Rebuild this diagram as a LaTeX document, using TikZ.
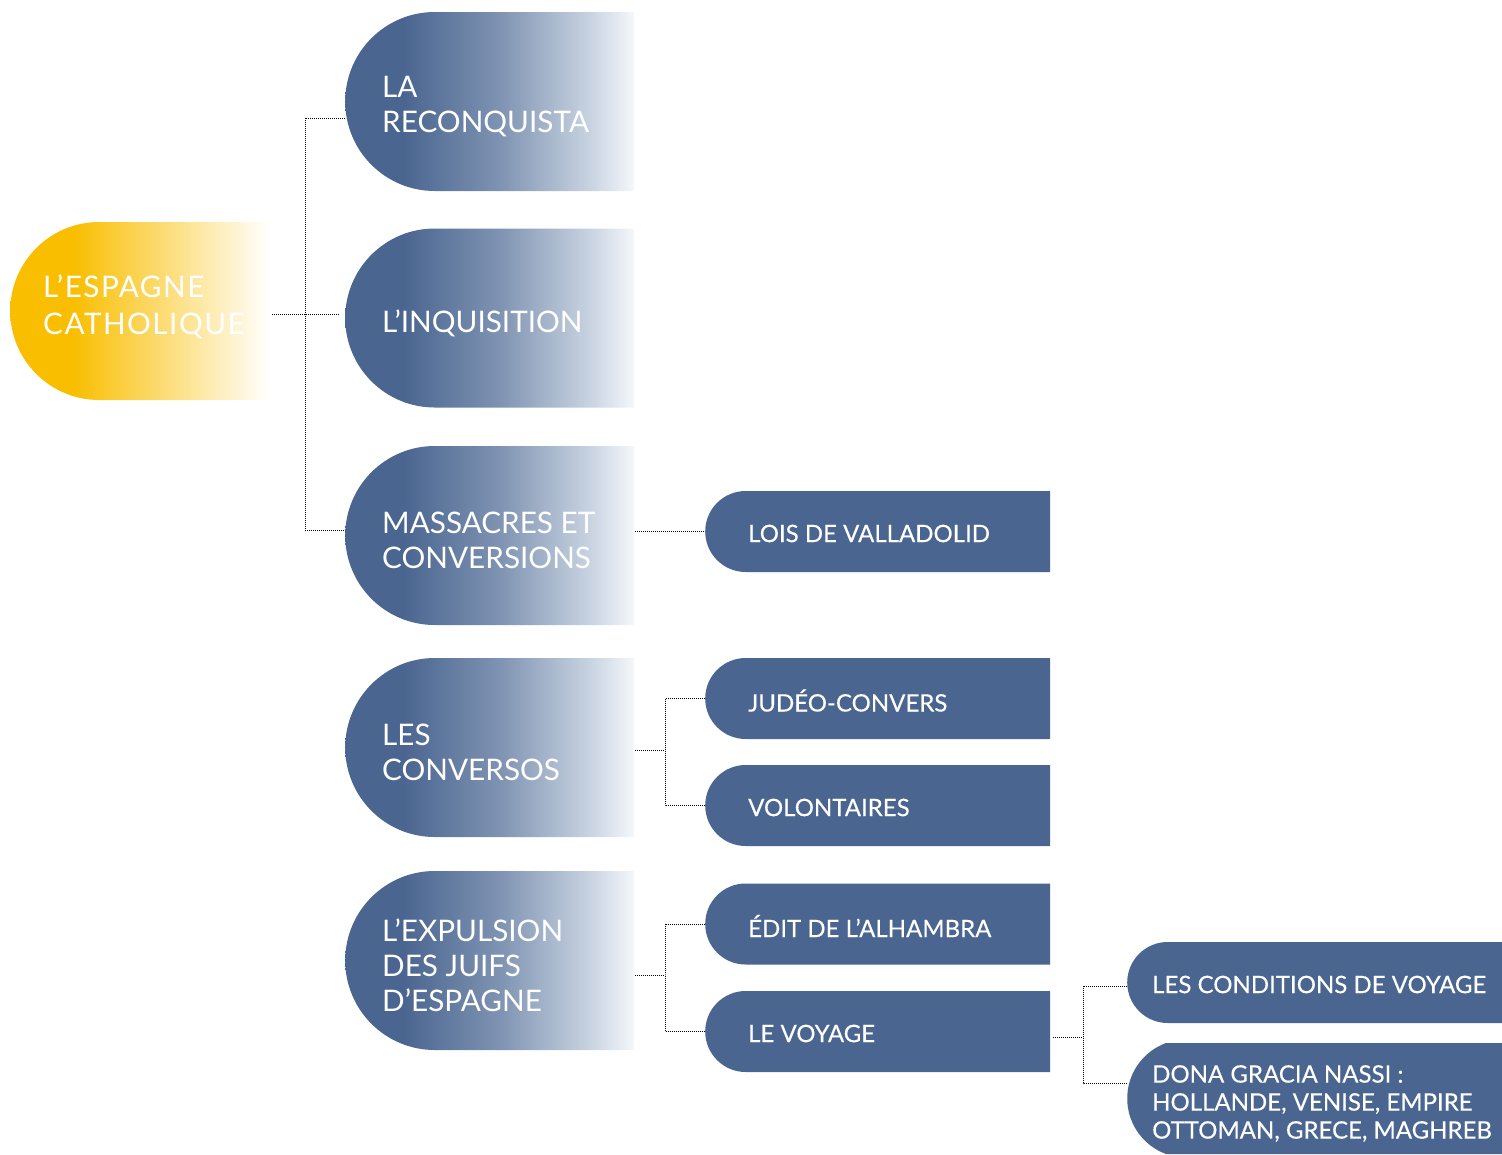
\documentclass[tikz,border=0pt]{standalone}
\usepackage{fontspec}
\setmainfont{Lato}
\usetikzlibrary{shapes.misc,calc}
\definecolor{bleu}{HTML}{4A6590}
\definecolor{jaune}{HTML}{F9BE00}
\pgfdeclarehorizontalshading{fadebleu}{100bp}{rgb(0bp)=(0.290,0.396,0.565); rgb(35bp)=(0.290,0.396,0.565); rgb(52bp)=(0.50,0.58,0.70); rgb(68bp)=(0.80,0.84,0.89); rgb(75bp)=(0.96,0.97,0.98); rgb(100bp)=(0.96,0.97,0.98)}
\pgfdeclarehorizontalshading{fadejaune}{100bp}{rgb(0bp)=(0.976,0.745,0); rgb(37bp)=(0.976,0.745,0); rgb(75bp)=(1,1,1); rgb(100bp)=(1,1,1)}

\tikzset{
  theme/.style={shape=rounded rectangle, rounded rectangle right arc=none, inner sep=0pt,
    minimum width=289pt, minimum height=179pt, shade, shading=fadebleu, anchor=west},
  racine/.style={theme, minimum width=260pt, minimum height=178pt, shading=fadejaune},
  sujet/.style={shape=rounded rectangle, rounded rectangle right arc=none, inner sep=0pt,
    minimum width=345pt, minimum height=81pt, fill=bleu, anchor=west},
  grandtexte/.style={text=white, align=left, font=\fontsize{29.7}{35}\selectfont, anchor=west, inner sep=0pt},
  petittexte/.style={text=white, align=left, font=\fontsize{24}{28}\selectfont\addfontfeature{FakeBold=0.3}, anchor=west, inner sep=0pt},
  lien/.style={draw=black, line width=0.8pt, dash pattern=on 1pt off 1pt}
}

\begin{document}
\begin{tikzpicture}[x=1pt,y=-1pt]
\useasboundingbox (0,0) rectangle (1502,1154);

% racine et themes
\node[racine] (esp) at (10,311) {};
\node[theme] (reco) at (345,101.5) {};
\node[theme] (inq) at (345,318) {};
\node[theme] (mass) at (345,535.5) {};
\node[theme] (conv) at (345,747.5) {};
\node[theme] (expu) at (345,960.5) {};

% sujets
\node[sujet] (lois) at (705,531.5) {};
\node[sujet] (judeo) at (705,698.5) {};
\node[sujet] (vol) at (705,805.5) {};
\node[sujet] (edit) at (705,924) {};
\node[sujet] (voy) at (705,1031.5) {};
\node[sujet, minimum width=375pt] (cond) at (1127,982.5) {};
\node[sujet, minimum width=375pt, minimum height=111pt, rounded rectangle arc length=140] (dona) at (1127,1098.5) {};

% textes
\node[grandtexte, font=\fontsize{29.7}{37}\selectfont\addfontfeature{LetterSpace=5}] (tesp) at ($(esp.west)+(33,-4)$) {L’ESPAGNE\\CATHOLIQUE};
\node[grandtexte] (treco) at ($(reco.west)+(37,5)$) {LA\\RECONQUISTA};
\node[grandtexte] (tinq) at ($(inq.west)+(37,5)$) {L’INQUISITION};
\node[grandtexte] (tmass) at ($(mass.west)+(37,5)$) {MASSACRES ET\\CONVERSIONS};
\node[grandtexte] (tconv) at ($(conv.west)+(37,5)$) {LES\\CONVERSOS};
\node[grandtexte] (texpu) at ($(expu.west)+(37,5)$) {L’EXPULSION\\DES JUIFS\\D’ESPAGNE};

\node[petittexte] (tlois) at ($(lois.west)+(43,2)$) {LOIS DE VALLADOLID};
\node[petittexte] (tjudeo) at ($(judeo.west)+(43,2)$) {JUDÉO-CONVERS};
\node[petittexte] (tvol) at ($(vol.west)+(43,2)$) {VOLONTAIRES};
\node[petittexte] (tedit) at ($(edit.west)+(43,2)$) {ÉDIT DE L’ALHAMBRA};
\node[petittexte] (tvoy) at ($(voy.west)+(43,2)$) {LE VOYAGE};
\node[petittexte] (tcond) at ($(cond.west)+(25,2)$) {LES CONDITIONS DE VOYAGE};
\node[petittexte] (tdona) at ($(dona.west)+(25,5)$) {DONA GRACIA NASSI :\\HOLLANDE, VENISE, EMPIRE\\OTTOMAN, GRECE, MAGHREB};

% liens
\coordinate (j1) at (305,314);
\coordinate (j2) at (665,750);
\coordinate (j3) at (665,975);
\coordinate (j4) at (1083,1037);

\draw[lien] ([xshift=2pt]esp.east |- j1) -- ([xshift=-5pt]inq.west |- j1);
\draw[lien] ([yshift=-16.5pt]reco.west) -| (j1) |- ([yshift=5.5pt]mass.west);
\draw[lien] ([xshift=1pt]mass.east |- lois.west) -- (lois.west);
\draw[lien] ([xshift=1pt]conv.east |- j2) -- (j2);
\draw[lien] (judeo.west) -| (j2) |- (vol.west);
\draw[lien] ([xshift=1pt]expu.east |- j3) -- (j3);
\draw[lien] (edit.west) -| (j3) |- (voy.west);
\draw[lien] ([xshift=3pt]voy.east |- j4) -- (j4);
\draw[lien] ([yshift=-3.5pt]cond.west) -| (j4) |- ([yshift=15.5pt]dona.west);
\end{tikzpicture}
\end{document}
